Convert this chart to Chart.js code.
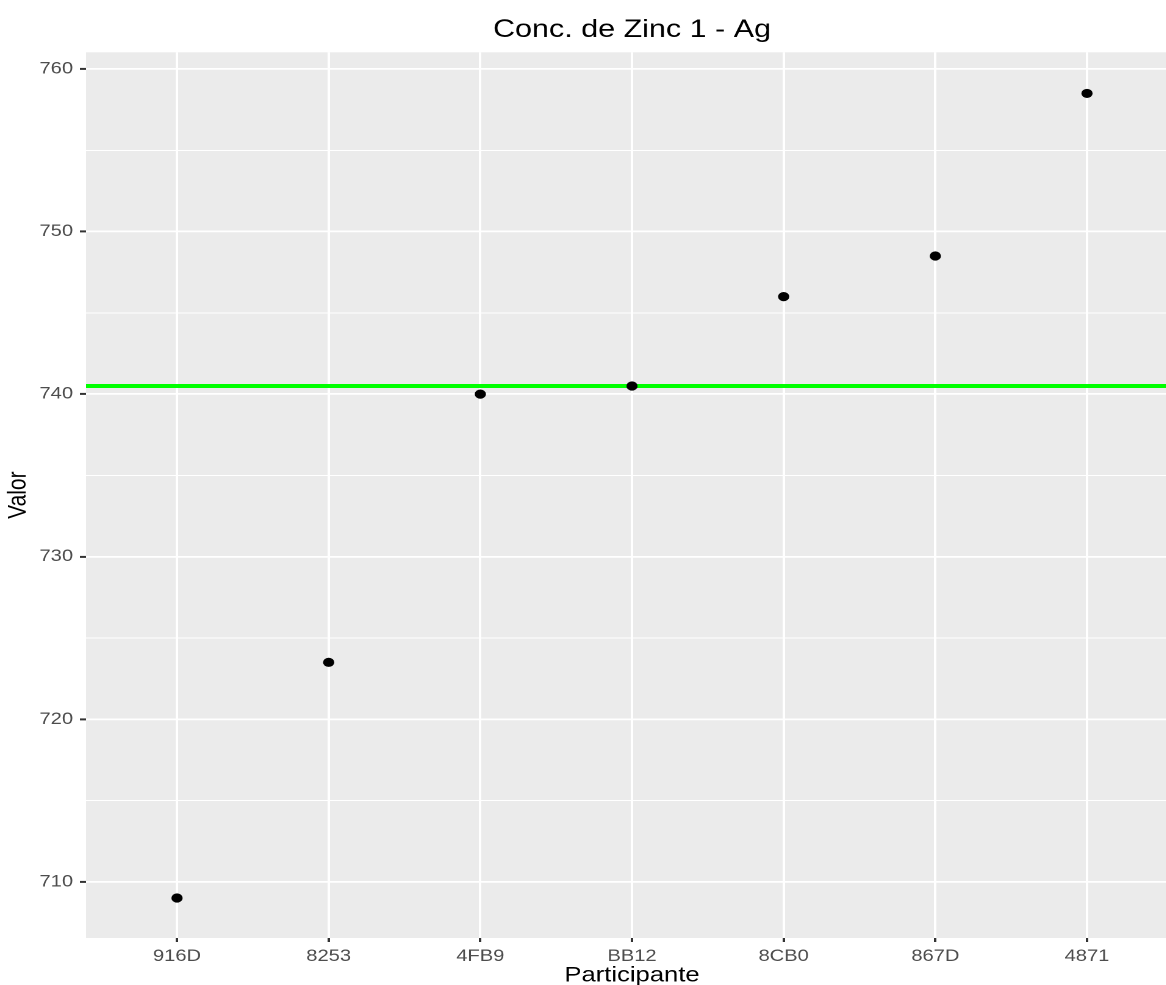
<!DOCTYPE html>
<html>
<head>
<meta charset="utf-8">
<script src="https://cdn.jsdelivr.net/npm/chart.js@4/dist/chart.umd.min.js"></script>
<style>
  html, body { margin: 0; padding: 0; background: #ffffff; overflow: hidden; }
  #wrap { position: absolute; left: 0; top: 0; width: 972px; height: 985px;
          transform: scaleX(1.22); transform-origin: 0 0; }
</style>
</head>
<body>
<div id="wrap"><canvas id="c"></canvas></div>
<script>
// ---- data ----
const categories = ['916D', '8253', '4FB9', 'BB12', '8CB0', '867D', '4871'];
const values = [709.0, 723.5, 740.0, 740.5, 746.0, 748.5, 758.5];
const refValue = 740.5;
const yTicks = [710, 715, 720, 725, 730, 735, 740, 745, 750, 755, 760];
const yMajorTicks = [710, 720, 730, 740, 750, 760];
const yLimits = [706.54, 761.03];
const xLimits = [-0.6, 6.6];
const titleText = 'Conc. de Zinc 1 - Ag';
const xTitle = 'Participante';
const yTitle = 'Valor';

const FONT = "'Liberation Sans', Arial, Helvetica, sans-serif";
const isMajor = v => yMajorTicks.includes(v);

const panelBg = {
  id: 'panelBg',
  beforeDraw(chart) {
    const a = chart.chartArea, ctx = chart.ctx;
    ctx.save();
    ctx.fillStyle = '#EBEBEB';
    ctx.fillRect(a.left, a.top, a.right - a.left, a.bottom - a.top);
    ctx.restore();
  }
};

const refLine = {
  id: 'refLine',
  beforeDatasetsDraw(chart) {
    const a = chart.chartArea, ctx = chart.ctx;
    const y = chart.scales.y.getPixelForValue(refValue);
    ctx.save();
    ctx.beginPath();
    ctx.rect(a.left, a.top, a.right - a.left, a.bottom - a.top);
    ctx.clip();
    ctx.strokeStyle = '#00FF00';
    ctx.lineWidth = 4;
    ctx.beginPath();
    ctx.moveTo(a.left, y);
    ctx.lineTo(a.right, y);
    ctx.stroke();
    ctx.restore();
  }
};

new Chart(document.getElementById('c'), {
  type: 'scatter',
  data: {
    datasets: [{
      data: values.map((v, i) => ({ x: i, y: v })),
      backgroundColor: '#000000',
      borderColor: '#000000',
      borderWidth: 0,
      pointRadius: 4.6,
      pointHoverRadius: 4.6
    }]
  },
  options: {
    responsive: true,
    maintainAspectRatio: false,
    animation: false,
    devicePixelRatio: 2,
    layout: { padding: { left: 0, right: 6.43, top: 0, bottom: 0 } },
    plugins: {
      legend: { display: false },
      tooltip: { enabled: false },
      title: {
        display: true,
        text: titleText,
        fullSize: false,
        color: '#000000',
        font: { family: FONT, size: 25, weight: 'normal', lineHeight: 1.2 },
        padding: { top: 15, bottom: 7.3 }
      }
    },
    scales: {
      x: {
        type: 'linear',
        min: xLimits[0],
        max: xLimits[1],
        afterBuildTicks: s => { s.ticks = categories.map((c, i) => ({ value: i })); },
        afterFit: s => { s.height = 47; },
        border: { display: false },
        grid: {
          color: '#FFFFFF',
          lineWidth: 2,
          tickColor: '#333333',
          tickWidth: 2,
          tickLength: 4,
          drawTicks: true
        },
        ticks: {
          autoSkip: false,
          maxRotation: 0,
          padding: 4.5,
          color: '#4D4D4D',
          font: { family: FONT, size: 16.5 },
          callback: v => categories[v]
        },
        title: {
          display: true,
          text: xTitle,
          color: '#000000',
          font: { family: FONT, size: 21, lineHeight: 0.9 },
          padding: { top: 0, bottom: 0 }
        }
      },
      y: {
        type: 'linear',
        min: yLimits[0],
        max: yLimits[1],
        afterBuildTicks: s => { s.ticks = yTicks.map(v => ({ value: v })); },
        afterFit: s => { s.width = 70.49; },
        border: { display: false },
        grid: {
          color: '#FFFFFF',
          lineWidth: c => isMajor(c.tick.value) ? 1.8 : 0.9,
          tickColor: c => isMajor(c.tick.value) ? '#333333' : 'rgba(0,0,0,0)',
          tickWidth: 2,
          tickLength: 5,
          drawTicks: true
        },
        ticks: {
          autoSkip: false,
          padding: 5.6,
          color: '#4D4D4D',
          font: { family: FONT, size: 16.5 },
          callback: v => isMajor(v) ? String(v) : ''
        },
        title: {
          display: true,
          text: yTitle,
          color: '#000000',
          font: { family: FONT, size: 21, lineHeight: 1.2 },
          padding: { top: 2.5, bottom: 0 }
        }
      }
    }
  },
  plugins: [panelBg, refLine]
});
</script>
</body>
</html>
